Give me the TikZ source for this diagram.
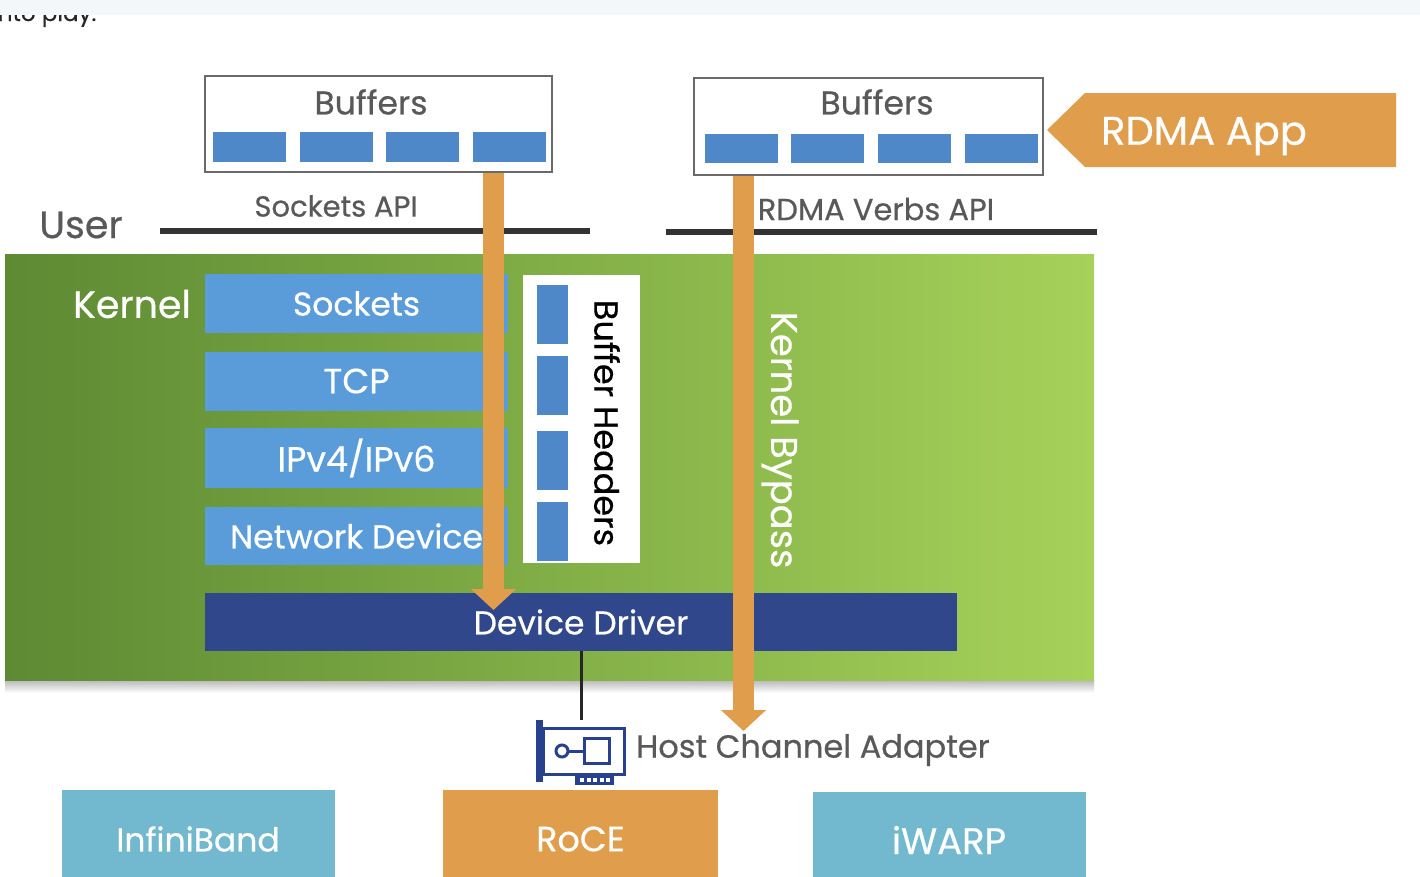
\documentclass[tikz,border=0pt]{standalone}
\usepackage{fontspec}
\setmainfont{Poppins}[FakeBold=0.5]
\usepackage{tikz}
\usetikzlibrary{arrows.meta}
\definecolor{txtgray}{HTML}{595959}
\definecolor{apigray}{HTML}{333333}
\definecolor{cellblue}{HTML}{4F88C9}
\definecolor{layerblue}{HTML}{5A9BDA}
\definecolor{drvblue}{HTML}{30488B}
\definecolor{appor}{HTML}{E09D4B}
\definecolor{linkteal}{HTML}{72B8CE}
\definecolor{hcanavy}{HTML}{27418E}
\definecolor{kerndark}{HTML}{5D8A33}
\definecolor{kernlight}{HTML}{A6D25A}
\definecolor{stripbg}{HTML}{F3F7FA}
\newcommand{\fsz}[1]{\fontsize{#1}{#1}\selectfont}
\tikzstyle{bufbox} = [draw=txtgray!90, line width=2.5pt, fill=white, inner sep=0pt]
\tikzstyle{bufcell} = [fill=cellblue, inner sep=0pt, minimum width=73pt, minimum height=30pt]
\tikzstyle{hdrcell} = [fill=cellblue, inner sep=0pt, minimum width=31pt, minimum height=59pt]
\tikzstyle{layer} = [fill=layerblue, text=white, inner sep=0pt, minimum width=303pt, minimum height=59pt, font=\fsz{33}]
\tikzstyle{linkbox} = [text=white, inner sep=0pt, minimum width=273pt, minimum height=98pt, font=\fsz{33}]
\tikzstyle{graylabel} = [text=txtgray, inner sep=0pt]
\tikzstyle{apiline} = [apigray, line width=6pt]
\tikzstyle{bypass} = [appor, line width=21pt, -{Triangle[width=44pt,length=21pt]}]

\begin{document}
\begin{tikzpicture}[x=1pt,y=-1pt]
\useasboundingbox (0,0) rectangle (1420,876);
\fill[white] (0,0) rectangle (1420,876);
% page text cut off at the top
\node[anchor=base west, inner sep=0pt, text=black!85, font=\fsz{23}] (intro) at (-8,21) {into play.};
\fill[stripbg] (0,0) rectangle (1420,15);

% user space
\node[graylabel, font=\fsz{38}] (user) at (81,225) {User};
\draw[apiline] (160,231) -- (590,231);
\draw[apiline] (666,232) -- (1097,232);
\node[graylabel, font=\fsz{29}] (sockapi) at (336,206) {Sockets API};
\node[graylabel, font=\fsz{30.5}] (verbsapi) at (876,209) {RDMA Verbs API};

\node[bufbox, minimum width=347pt, minimum height=96pt] (bufL) at (378.5,124) {};
\node[graylabel, font=\fsz{33}] (bufLtxt) at (371,102) {Buffers};
\foreach \i in {0,...,3}
  \node[bufcell] (cellL\i) at (249.5+86.5*\i,146.5) {};
\node[bufbox, minimum width=349pt, minimum height=97pt] (bufR) at (868.5,126.5) {};
\node[graylabel, font=\fsz{33}] (bufRtxt) at (877,102) {Buffers};
\foreach \i in {0,...,3}
  \node[bufcell, minimum height=29pt] (cellR\i) at (741+86.8*\i,148.5) {};

\fill[appor] (1047,130) -- (1085,93) -- (1396,93) -- (1396,167) -- (1085,167) -- cycle;
\node[text=white, inner sep=0pt, font=\fsz{40}] (rdmaapp) at (1204,136) {RDMA App};

% kernel
\shade[top color=black!28, bottom color=white] (5,680) rectangle (1094,693);
\shade[left color=kerndark, right color=kernlight] (5,254) rectangle (1094,680);
\node[text=white, inner sep=0pt, font=\fsz{38}] (kernel) at (132,304) {Kernel};
\node[layer] (sockets) at (356.5,303.5) {Sockets};
\node[layer, font=\fsz{35}] (tcp) at (356.5,381) {TCP};
\node[layer, minimum height=60pt, font=\fsz{35}] (ip) at (356.5,458) {IPv4/IPv6};
\node[layer, minimum height=58pt] (netdev) at (356.5,536) {Network Device};

\node[fill=white, inner sep=0pt, minimum width=117pt, minimum height=288pt] (hdrs) at (581.5,419) {};
\foreach \y in {314.5,385,460,531.5}
  \node[hdrcell] at (552.5,\y) {};
\node[rotate=-90, inner sep=0pt, font=\fsz{33.5}] (hdrstxt) at (607,423) {Buffer Headers};

\node[fill=drvblue, text=white, inner sep=0pt, minimum width=752pt, minimum height=58pt, font=\fsz{33}] (devdrv) at (581,622) {Device Driver};
\node[rotate=-90, text=white, inner sep=0pt, font=\fsz{37}] (bypasstxt) at (780,440) {Kernel Bypass};

% bypass arrows
\coordinate (arrL) at (493.5,610);
\coordinate (arrR) at (743.5,731);
\draw[bypass] (bufL.south -| arrL) -- (arrL);
\draw[bypass] (bufR.south -| arrR) -- (arrR);

% host channel adapter
\coordinate (hca) at (581,720);
\draw[black!85, line width=3pt] (devdrv.south) -- (hca);
\fill[hcanavy] (536,720) rectangle (543,782);
\draw[hcanavy, line width=3pt, fill=white] (543,728.5) rectangle (624,774.5);
\draw[hcanavy, line width=3pt] (562,751) circle[radius=6pt];
\draw[hcanavy, line width=3pt] (568,751) -- (584,751);
\draw[hcanavy, line width=3pt] (584,738.5) rectangle (609,763);
\fill[hcanavy] (575,774) rectangle (614,785);
\foreach \t in {0,...,4}
  \fill[white] (580+6.6*\t,778) rectangle (584+6.6*\t,782);
\node[graylabel, anchor=west, font=\fsz{32}] (hcatxt) at (636,750) {Host Channel Adapter};

% link layers
\node[linkbox, fill=linkteal] (ib) at (198,839) {InfiniBand};
\node[linkbox, fill=appor, minimum width=275pt, font=\fsz{35}] (roce) at (580.5,839) {RoCE};
\node[linkbox, fill=linkteal, minimum height=96pt, font=\fsz{37}] (iwarp) at (949,840) {iWARP};
\end{tikzpicture}
\end{document}
